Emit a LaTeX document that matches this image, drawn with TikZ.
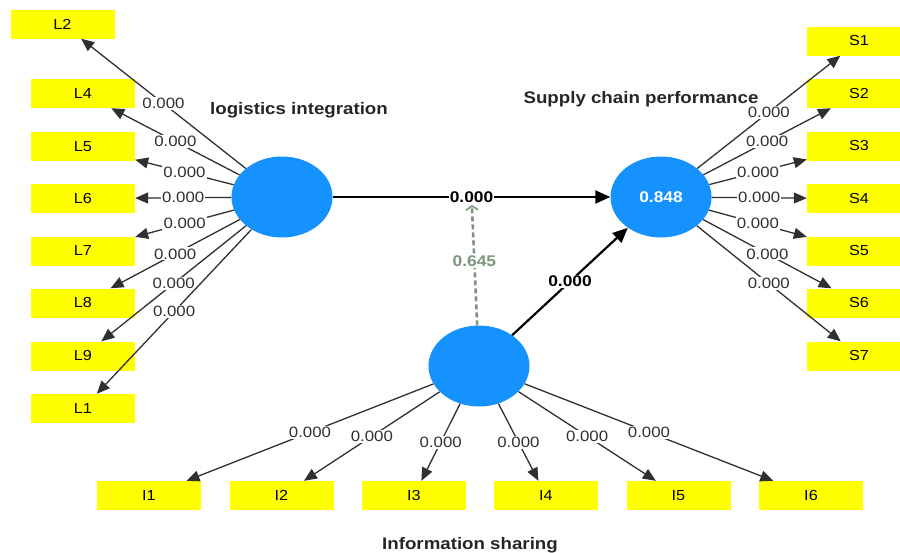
\documentclass[tikz,border=0pt]{standalone}
\usepackage{fontspec}
\setmainfont{Liberation Sans}[FakeStretch=1.12]
\usetikzlibrary{arrows.meta,shapes.geometric,calc}

\definecolor{latentblue}{RGB}{22,146,255}
\definecolor{itemyellow}{RGB}{255,255,0}
\definecolor{loadgrey}{RGB}{48,48,48}
\definecolor{modgreen}{RGB}{124,150,124}

\tikzset{
  latent/.style={ellipse, fill=latentblue, draw=none, minimum width=101pt,
    minimum height=81pt, inner sep=0pt, text=white,
    font=\fontsize{15.5}{16}\selectfont\bfseries},
  item/.style={rectangle, fill=itemyellow, draw=none, minimum width=104pt,
    minimum height=29pt, inner sep=0pt, text=black,
    font=\fontsize{14.5}{15}\selectfont},
  title/.style={font=\fontsize{16.7}{17}\selectfont\bfseries, text=black!85, inner sep=0pt},
  loading/.style={draw=loadgrey, line width=1.3pt,
    -{Triangle[length=13pt,width=11pt]}},
  path/.style={draw=black, line width=2.2pt,
    -{Triangle[length=15pt,width=13pt]}},
  moderator/.style={draw=modgreen, line width=2.6pt, dash pattern=on 5pt off 3pt,
    -{Straight Barb[length=4pt,width=12pt,line width=1.6pt]}, shorten >=8pt},
  lbl/.style={fill=white, inner sep=1.2pt, text=loadgrey,
    font=\fontsize{15}{15}\selectfont},
  plbl/.style={fill=white, inner sep=1.2pt, text=black,
    font=\fontsize{15.5}{16}\selectfont\bfseries},
  mlbl/.style={fill=white, inner sep=1.2pt, text=modgreen,
    font=\fontsize{15.5}{16}\selectfont\bfseries},
}

\begin{document}
\begin{tikzpicture}[x=1pt, y=-1pt]
\useasboundingbox (0,0) rectangle (900,552);
\clip (0,0) rectangle (900,552);

% latent constructs
\node[latent] (li)  at (282,197) {};
\node[latent] (scp) at (661,197) {0.848};
\node[latent] (is)  at (479,366) {};

% construct names
\node[title] (tli)  at (299,110) {logistics integration};
\node[title] (tscp) at (641,99)  {Supply chain performance};
\node[title] (tis)  at (470,545) {Information sharing};

% logistics integration indicators
\node[item] (L2) at (62.5,24)   {L2};
\node[item] (L4) at (83,93.5)   {L4};
\node[item] (L5) at (83,146.5)  {L5};
\node[item] (L6) at (83,198.5)  {L6};
\node[item] (L7) at (83,251)    {L7};
\node[item] (L8) at (83,303)    {L8};
\node[item] (L9) at (83,356)    {L9};
\node[item] (L1) at (83,408.5)  {L1};

% supply chain performance indicators
\node[item] (S1) at (859,41)    {S1};
\node[item] (S2) at (859,93.5)  {S2};
\node[item] (S3) at (859,146)   {S3};
\node[item] (S4) at (859,198.5) {S4};
\node[item] (S5) at (859,251)   {S5};
\node[item] (S6) at (859,303)   {S6};
\node[item] (S7) at (859,356)   {S7};

% information sharing indicators
\node[item] (I1) at (149,495.5)   {I1};
\node[item] (I2) at (281.5,495.5) {I2};
\node[item] (I3) at (414,495.5)   {I3};
\node[item] (I4) at (546,495.5)   {I4};
\node[item] (I5) at (678.5,495.5) {I5};
\node[item] (I6) at (811,495.5)   {I6};

% outer loadings
\foreach \t in {L2,L4,L5,L6,L7,L8,L9,L1}
  \draw[loading] (li) -- node[lbl] {0.000} (\t);
\foreach \t in {S1,S2,S3,S4,S5,S6,S7}
  \draw[loading] (scp) -- node[lbl] {0.000} (\t);
\foreach \t in {I1,I2,I3,I4,I5,I6}
  \draw[loading] (is) -- node[lbl] {0.000} (\t);

% structural paths
\coordinate (mid) at ($(li)!0.5!(scp)$);
\draw[moderator] (is) -- node[mlbl] {0.645} (mid);
\draw[path] (li) -- node[plbl] {0.000} (scp);
\draw[path] (is) -- node[plbl] {0.000} (scp);
\end{tikzpicture}
\end{document}
